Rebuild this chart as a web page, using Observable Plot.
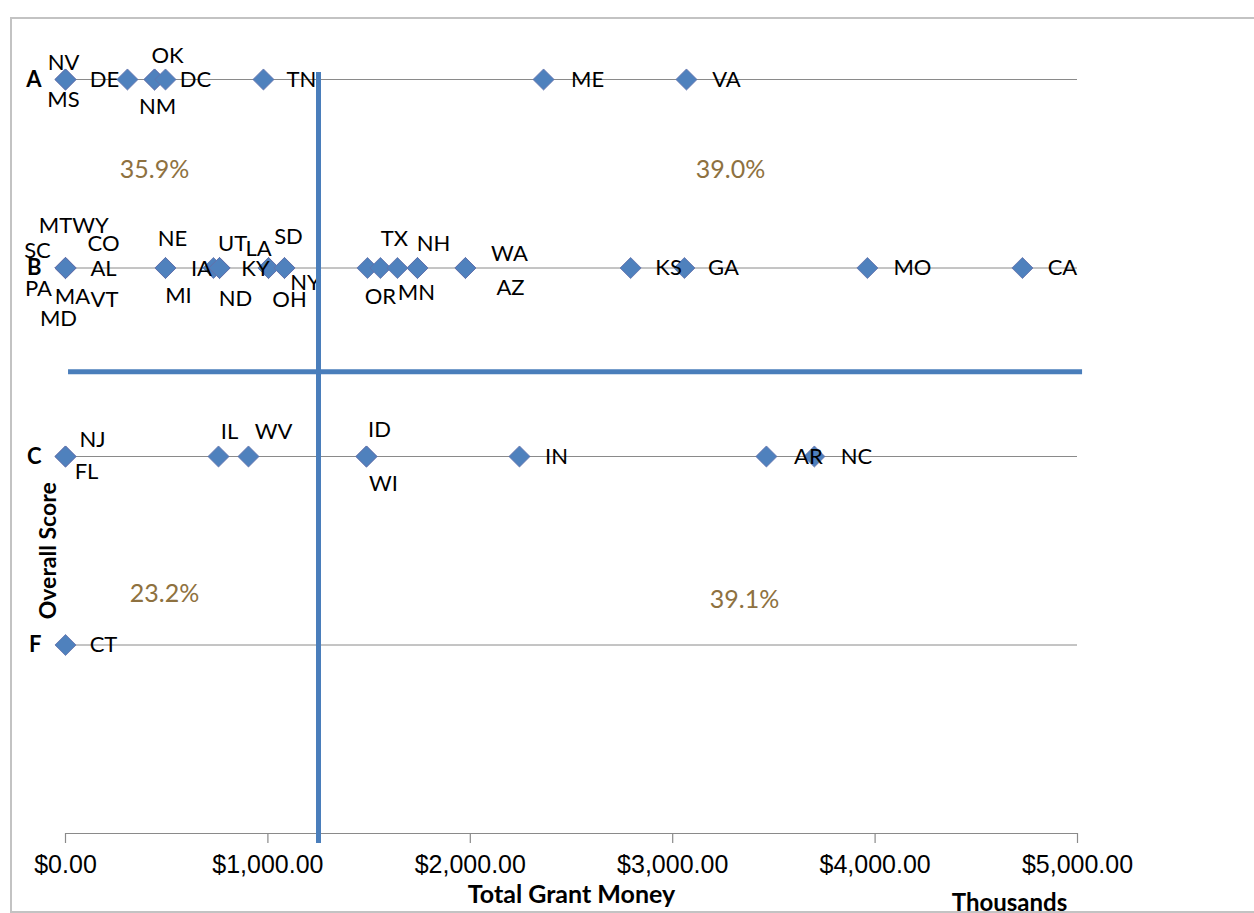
<!DOCTYPE html>
<html>
<head>
<meta charset="utf-8">
<script src="https://cdn.jsdelivr.net/npm/d3@7"></script>
<script src="https://cdn.jsdelivr.net/npm/@observablehq/plot@0.6"></script>
<style>
  body { margin: 0; background: #fff; }
  #wrap { position: relative; width: 1254px; height: 913px; overflow: hidden; background: #fff; }
  #frame { position: absolute; left: 10px; top: 17px; width: 1260px; height: 892px; border: 2px solid #c3c3c3; pointer-events: none; }
  svg { display: block; }
</style>
</head>
<body>
<div id="wrap"><div id="frame"></div></div>
<script>
// ---- data ----
const states = [
  "NV","MS","DE","NM","DC","OK","TN","ME","VA",
  "MT","WY","SC","CO","AL","PA","MA","VT","MD","NE","MI","IA","UT","ND","KY","LA","NY","SD","OH","","OR","TX","MN","NH","WA","AZ","KS","GA","MO","CA",
  "NJ","FL","IL","WV","ID","WI","IN","AR","NC",
  "CT"
];
const grades = [
  "A","A","A","A","A","A","A","A","A",
  "B","B","B","B","B","B","B","B","B","B","B","B","B","B","B","B","B","B","B","B","B","B","B","B","B","B","B","B","B","B",
  "C","C","C","C","C","C","C","C","C",
  "F"
];
// total grant money, thousands of dollars
const grants = [
  0,0,306,440,440,494,978,2362,3068,
  0,0,0,0,0,0,0,0,0,494,494,731,761,761,761,1003,1003,1082,1082,1492,1556,1640,1739,1739,1976,1976,2792,3058,3962,4728,
  0,0,756,904,1487,1487,2243,3463,3700,
  0
];
const gradeLetters = ["F","C","B","A"];
const gradeLevels = [1,2,3,4];
const xTicks = [0,1000,2000,3000,4000,5000];
const quadrantShares = ["35.9%","39.0%","23.2%","39.1%"];
const medianGrant = 1250;
const medianLevel = 2.45;

// ---- styling / annotation placement (pixels, not data) ----
const labelOffset = {
  NV:[-2,-17], MS:[-2,20], DE:[-23,0], NM:[3,27], DC:[41,0], OK:[2,-24], TN:[38,0], ME:[44,0], VA:[40,0],
  MT:[-10,-42], WY:[25,-42], SC:[-28,-17], CO:[38,-24], AL:[38,1], PA:[-27,21], MA:[7,29], VT:[39,32], MD:[-7,51],
  NE:[7,-29], MI:[13,28], IA:[-12,1], UT:[13,-24], ND:[16,31], KY:[36,1], LA:[-10,-19], NY:[37,15], SD:[4,-31], OH:[5,32],
  OR:[0,29], TX:[-3,-29], MN:[-1,25], NH:[16,-24], WA:[44,-14], AZ:[45,20], KS:[38,0], GA:[39,0], MO:[45,0], CA:[40,0],
  NJ:[27,-17], FL:[21,15], IL:[11,-25], WV:[25,-25], ID:[13,-27], WI:[17,27], IN:[37,0], AR:[42,0], NC:[42,0], CT:[38,0]
};
const quadrantAnchor = [[440,3.52],[3286,3.52],[489,1.27],[3355,1.24]];

const levelOf = g => gradeLevels[gradeLetters.indexOf(g)];
const points = states.map((s, i) => ({state: s, grade: grades[i], level: levelOf(grades[i]), grant: grants[i]}));
const quads = quadrantShares.map((t, i) => ({text: t, x: quadrantAnchor[i][0], y: quadrantAnchor[i][1]}));

const FONT = "Lato, 'Open Sans', sans-serif";
const BLUE = "#4A7EBB";
const GRID = "#8a8a8a";

const labelMarks = points.filter(d => d.state).map(d => {
  const o = labelOffset[d.state] || [35, 0];
  return Plot.text([d], {x: "grant", y: "level", text: "state", dx: o[0], dy: o[1], fontSize: 22, fill: "#000", fontFamily: FONT});
});

const chart = Plot.plot({
  width: 1254,
  height: 913,
  marginLeft: 65,
  marginRight: 177,
  marginTop: 79,
  marginBottom: 80,
  style: {fontFamily: FONT, fontSize: "21px", background: "transparent", overflow: "visible"},
  x: {domain: [0, 5000], label: null},
  y: {domain: [0, 4], label: null},
  marks: [
    Plot.ruleY(gradeLevels, {x1: 0, x2: 5000, stroke: GRID, strokeWidth: 1}),
    Plot.ruleY([0], {x1: 0, x2: 5000, stroke: GRID, strokeWidth: 1.2}),
    Plot.ruleX(xTicks, {y1: 0, y2: -0.053, stroke: GRID, strokeWidth: 1.2}),
    Plot.axisX({ticks: xTicks, tickSize: 0, tickPadding: 22, tickFormat: d => "$" + d3.format(",.2f")(d),
      fontSize: 25, fontFamily: "'Liberation Sans', Arial, sans-serif", fill: "#000", label: null}),
    Plot.axisY({ticks: gradeLevels, tickSize: 0, tickPadding: 24, tickFormat: d => gradeLetters[gradeLevels.indexOf(d)],
      fontSize: 22, fontWeight: "bold", fontFamily: FONT, fill: "#000", label: null}),
    Plot.text(quads, {x: "x", y: "y", text: "text", fill: "#8E7140", fontSize: 25, fontFamily: FONT}),
    Plot.dot(points, {x: "grant", y: "level", symbol: "diamond2", r: 9.5, fill: "#4F81BD", stroke: "#6470AA", strokeWidth: 0.8}),
    ...labelMarks,
    Plot.ruleX([medianGrant], {y1: 4.037, y2: -0.053, stroke: BLUE, strokeWidth: 5}),
    Plot.ruleY([medianLevel], {x1: 15, x2: 5025, stroke: BLUE, strokeWidth: 5}),
    Plot.text(["Total Grant Money"], {frameAnchor: "bottom", lineAnchor: "middle", dy: 61, fontSize: 25, fontWeight: "bold", fontFamily: FONT, fill: "#000"}),
    Plot.text(["Thousands"], {frameAnchor: "bottom-right", textAnchor: "middle", lineAnchor: "middle", dx: -68, dy: 70, fontSize: 24, fontWeight: "bold", fontFamily: FONT, fill: "#000"}),
    Plot.text(["Overall Score"], {frameAnchor: "left", y: () => 1.5, rotate: -90, textAnchor: "middle", lineAnchor: "middle", dx: -17, fontSize: 23, fontWeight: "bold", fontFamily: FONT, fill: "#000"})
  ]
});
document.getElementById("wrap").prepend(chart);
</script>
</body>
</html>
